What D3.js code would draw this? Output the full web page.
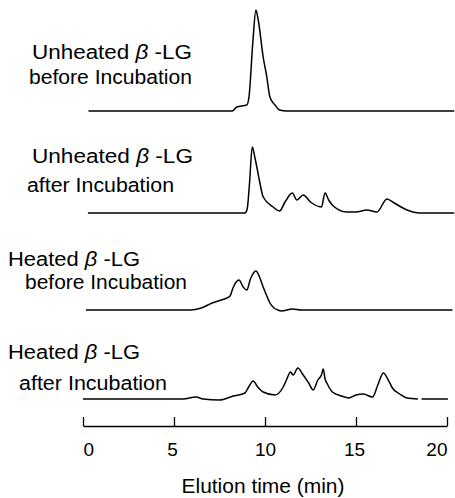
<!DOCTYPE html>
<html>
<head>
<meta charset="utf-8">
<script src="https://cdn.jsdelivr.net/npm/d3@7"></script>
<style>
  body { margin: 0; background: #fff; }
  text { font-family: "Liberation Sans", Arial, sans-serif; fill: #000; }
</style>
</head>
<body>
<div id="chart"></div>
<script>
// elution time (min) and detector response (arbitrary units) for each run
var unheatedBefore = [
    [0.3, 0], [4, 0], [8.2, 0], [8.45, 4], [9.0, 6], [9.12, 14], [9.34, 71], [9.5, 101],
    [9.62, 92], [9.9, 54], [10.1, 34], [10.27, 14], [10.55, 6], [10.8, 1], [11.2, 0], [20.4, 0]
];
var unheatedAfter = [
    [0.27, 0], [8.9, 0], [9.02, 4], [9.15, 30], [9.3, 66], [9.45, 55], [9.7, 32], [9.9, 16],
    [10.45, 6], [10.8, 2], [11.1, 11], [11.5, 20], [11.75, 13], [12.1, 18], [12.5, 11],
    [13.1, 6], [13.3, 20], [13.5, 13], [13.75, 7], [14.5, 1], [15.0, 1], [15.6, 3], [16.15, 1],
    [16.7, 14], [17.1, 10], [17.8, 3], [18.5, 0], [20.4, 0]
];
var heatedBefore = [
    [0.16, 0], [5.9, 0], [6.5, 2], [7.1, 7], [7.6, 10], [7.9, 12], [8.08, 14], [8.24, 22],
    [8.57, 30], [8.8, 23], [9.0, 20], [9.2, 31], [9.5, 39], [9.7, 33], [9.9, 23], [10.1, 14],
    [10.27, 7], [10.5, 2], [10.7, 0], [10.9, -1], [11.5, 1], [12, 0], [20.3, 0]
];
var heatedAfter = [
    [0, 0], [5.5, 0], [6.2, 2], [6.6, 0], [7.5, -1], [8.25, 3], [8.9, 6], [9.1, 12], [9.35, 18],
    [9.6, 12], [9.9, 7], [10.55, 4], [11.0, 12], [11.2, 20], [11.4, 27], [11.55, 24], [11.8, 31],
    [12.1, 24], [12.4, 16], [12.65, 9], [12.9, 19], [13.1, 24], [13.2, 30], [13.3, 20], [13.4, 16],
    [13.7, 7], [14.2, 3], [14.6, 1], [15.0, 4], [15.4, 5], [15.9, 2], [16.2, 14], [16.5, 26],
    [16.8, 18], [17.0, 11], [17.4, 5], [17.8, 1], [18.4, 0], null, [18.6, 0], [20.05, 0]
];

var runs = [unheatedBefore, unheatedAfter, heatedBefore, heatedAfter];
var runLabels = [
    ['Unheated', 'before Incubation'],
    ['Unheated', 'after Incubation'],
    ['Heated', 'before Incubation'],
    ['Heated', 'after Incubation']
];
var xTicks = [0, 5, 10, 15, 20];
var xTitle = 'Elution time (min)';

var width = 455, height = 498;

// layout of each stacked trace
var baselines = [111, 213, 310, 399];
var labelLayout = [
    {x1: 32, y1: 59, w1: 160, x2: 29, y2: 84, w2: 163},
    {x1: 32, y1: 163, w1: 161, x2: 27, y2: 192, w2: 147},
    {x1: 8, y1: 266, w1: 132, x2: 25, y2: 289, w2: 162},
    {x1: 8, y1: 359, w1: 132, x2: 19, y2: 390, w2: 148}
];

var svg = d3.select('#chart').append('svg')
    .attr('width', width)
    .attr('height', height);

var x = d3.scaleLinear().domain([0, 20]).range([83, 447]);
var y = d3.scaleLinear().domain([0, 100]).range([0, -100]);

var line = d3.line()
    .defined(function (d) { return d !== null; })
    .x(function (d) { return x(d[0]); })
    .y(function (d) { return y(d[1]); })
    .curve(d3.curveMonotoneX);

runs.forEach(function (run, i) {
    var g = svg.append('g').attr('transform', 'translate(0,' + baselines[i] + ')');
    g.append('path')
        .attr('d', line(run))
        .attr('fill', 'none')
        .attr('stroke', '#000')
        .attr('stroke-width', 1.5)
        .attr('stroke-linejoin', 'round');

    var lay = labelLayout[i];
    var t1 = svg.append('text')
        .attr('x', lay.x1)
        .attr('y', lay.y1)
        .attr('font-size', 20)
        .attr('textLength', lay.w1)
        .attr('lengthAdjust', 'spacingAndGlyphs');
    t1.append('tspan').text(runLabels[i][0] + '  ');
    t1.append('tspan').attr('font-style', 'italic').text('\u03B2');
    t1.append('tspan').text(' -LG');

    svg.append('text')
        .attr('x', lay.x2)
        .attr('y', lay.y2)
        .attr('font-size', 20)
        .attr('textLength', lay.w2)
        .attr('lengthAdjust', 'spacingAndGlyphs')
        .text(runLabels[i][1]);
});

// x axis with ticks pointing up
var axis = d3.axisBottom(x)
    .tickValues(xTicks)
    .tickSizeInner(-9)
    .tickSizeOuter(0)
    .tickPadding(17);

var ax = svg.append('g')
    .attr('transform', 'translate(0,426)')
    .call(axis);

ax.select('.domain').attr('stroke', '#000').attr('stroke-width', 1.5);
ax.selectAll('.tick line').attr('stroke', '#000').attr('stroke-width', 1.3);
ax.selectAll('.tick text')
    .attr('font-family', '"Liberation Sans", Arial, sans-serif')
    .attr('font-size', 19)
    .attr('fill', '#000')
    .attr('text-anchor', function (d, i) {
        // end labels sit inside the axis span
        if (i === 0) return 'start';
        if (i === xTicks.length - 1) return 'end';
        return 'middle';
    })
    .attr('dx', function (d, i) {
        if (i === 1 || i === 3) return -2;
        return 0;
    });

svg.append('text')
    .attr('x', 263)
    .attr('y', 493)
    .attr('text-anchor', 'middle')
    .attr('font-size', 20)
    .attr('textLength', 163)
    .attr('lengthAdjust', 'spacingAndGlyphs')
    .text(xTitle);
</script>
</body>
</html>
